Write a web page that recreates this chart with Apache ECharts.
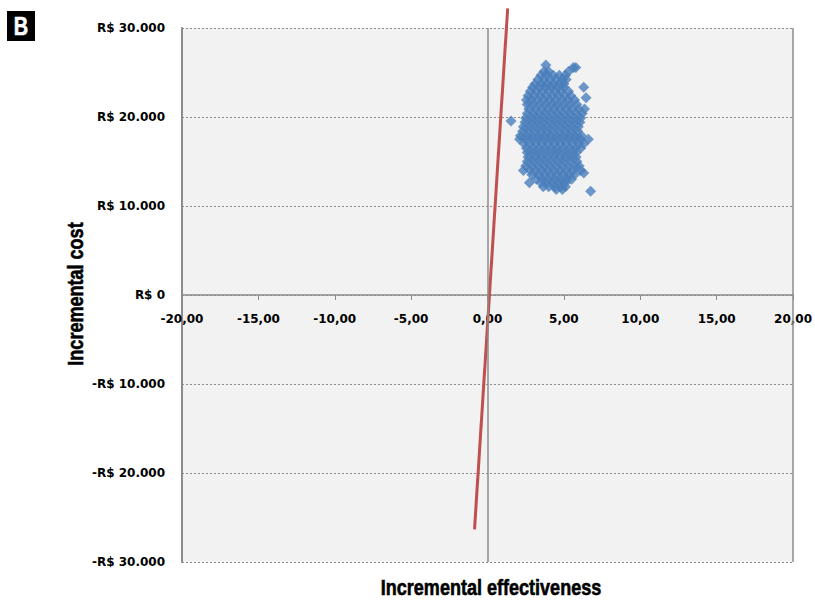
<!DOCTYPE html>
<html>
<head>
<meta charset="utf-8">
<script src="https://cdn.jsdelivr.net/npm/echarts@6/dist/echarts.min.js"></script>
<style>html,body{margin:0;padding:0;background:#fff;}#c{width:815px;height:600px;}</style>
</head>
<body>
<div id="c"></div>
<script>
// Simulated incremental cost rows (R$) and the incremental effectiveness values read in each row
const costRows = [25850, 25550, 25100, 24700, 24200, 23700, 23350, 22900, 22400, 22150, 21900, 21400, 20900, 20400, 19900, 19550, 19400, 18900, 18400, 17900, 17500, 17000, 16500, 16000, 15500, 15000, 14500, 14000, 13700, 13500, 13000, 12600, 12150, 11850, 11650];
const effectRows = [
  [3.82],
  [5.78, 5.62],
  [3.7, 4.0, 5.3],
  [3.5, 3.9, 4.3, 4.7, 5.1],
  [3.3, 3.7, 4.1, 4.5, 4.9, 5.15],
  [3.1, 3.5, 3.9, 4.3, 4.7, 5.0],
  [2.95, 3.4, 3.8, 4.2, 4.6, 5.0, 6.3],
  [2.8, 3.2, 3.6, 4.0, 4.4, 4.8, 5.3],
  [2.65, 3.05, 3.45, 3.85, 4.25, 4.65, 5.05, 5.45],
  [6.45],
  [2.55, 2.9, 3.3, 3.7, 4.1, 4.5, 4.9, 5.3, 5.7],
  [2.6, 3.0, 3.4, 3.8, 4.2, 4.6, 5.0, 5.4, 5.85],
  [2.7, 3.1, 3.5, 3.9, 4.3, 4.7, 5.1, 5.5, 5.95, 6.35],
  [2.6, 3.0, 3.4, 3.8, 4.2, 4.6, 5.0, 5.4, 5.8, 6.2],
  [2.5, 2.9, 3.3, 3.7, 4.1, 4.5, 4.9, 5.3, 5.7, 6.1],
  [1.54],
  [2.45, 2.85, 3.25, 3.65, 4.05, 4.45, 4.85, 5.25, 5.65, 6.05],
  [2.35, 2.75, 3.15, 3.55, 3.95, 4.35, 4.75, 5.15, 5.55, 5.95],
  [2.3, 2.7, 3.1, 3.5, 3.9, 4.3, 4.7, 5.1, 5.5, 5.9],
  [2.15, 2.55, 2.95, 3.35, 3.75, 4.15, 4.55, 4.95, 5.35, 5.75, 6.15],
  [2.1, 2.5, 2.9, 3.3, 3.7, 4.1, 4.5, 4.9, 5.3, 5.7, 6.1, 6.6],
  [2.4, 2.8, 3.2, 3.6, 4.0, 4.4, 4.8, 5.2, 5.6, 6.0, 6.3],
  [2.55, 2.95, 3.35, 3.75, 4.15, 4.55, 4.95, 5.35, 5.75, 6.1],
  [2.6, 3.0, 3.4, 3.8, 4.2, 4.6, 5.0, 5.4, 5.8],
  [2.65, 3.05, 3.45, 3.85, 4.25, 4.65, 5.05, 5.45, 5.8],
  [2.6, 3.0, 3.4, 3.8, 4.2, 4.6, 5.0, 5.4, 5.85],
  [2.5, 2.9, 3.3, 3.7, 4.1, 4.5, 4.9, 5.3, 5.7, 6.0],
  [2.35, 2.8, 3.2, 3.6, 4.0, 4.4, 4.8, 5.2, 5.6, 6.1],
  [6.3],
  [2.9, 3.3, 3.7, 4.1, 4.5, 4.9, 5.3, 5.7],
  [3.2, 3.6, 4.0, 4.4, 4.8, 5.2, 5.5],
  [2.74, 3.5, 3.9, 4.3, 4.7, 5.1],
  [3.65, 4.0, 4.4, 4.8, 5.1],
  [4.5, 4.9],
  [6.75]
];
// Willingness-to-pay threshold line endpoints
const thresholdEffect = [-0.85, 1.32];
const thresholdCost = [-26330, 32210];
// Tick labels
const xTickValues = [-20, -15, -10, -5, 0, 5, 10, 15, 20];
const xTickLabels = ['-20,00', '-15,00', '-10,00', '-5,00', '0,00', '5,00', '10,00', '15,00', '20,00'];
const yTickValues = [-30000, -20000, -10000, 0, 10000, 20000, 30000];
const yTickLabels = ['-R$ 30.000', '-R$ 20.000', '-R$ 10.000', 'R$ 0', 'R$ 10.000', 'R$ 20.000', 'R$ 30.000'];

const points = [];
costRows.forEach((c, i) => effectRows[i].forEach(e => points.push([e, c])));
const lineData = thresholdEffect.map((e, i) => [e, thresholdCost[i]]);

const labelFont = { fontFamily: 'DejaVu Sans', fontWeight: 'bold', fontSize: 12, color: '#000' };
const titleFont = '"Liberation Sans", Arial, sans-serif';

const GRID_TOP = 28, GRID_BOTTOM = 38, H = 600;
const halfH = (H - GRID_TOP - GRID_BOTTOM) / 2;

const chart = echarts.init(document.getElementById('c'), null, { renderer: 'svg' });
chart.setOption({
  animation: false,
  backgroundColor: '#ffffff',
  grid: { left: 182, right: 21, top: GRID_TOP, bottom: GRID_BOTTOM, show: true, backgroundColor: '#f2f2f2', borderWidth: 0 },
  xAxis: {
    type: 'value', min: -20, max: 20, interval: 5, position: 'bottom', offset: -halfH,
    axisLine: { onZero: false, lineStyle: { color: '#8c8c8c', width: 1.5 } },
    axisTick: { show: true, length: 5, lineStyle: { color: '#8c8c8c' } },
    splitLine: { show: false },
    axisLabel: Object.assign({ margin: 18, formatter: v => xTickLabels[xTickValues.indexOf(v)] }, labelFont)
  },
  yAxis: {
    type: 'value', min: -30000, max: 30000, interval: 10000,
    axisLine: { show: true, onZero: false, lineStyle: { color: '#8c8c8c', width: 2 } },
    axisTick: { show: false },
    splitLine: { show: true, lineStyle: { color: '#8c8c8c', type: [2, 2], width: 1 } },
    axisLabel: Object.assign({ margin: 17, formatter: v => yTickLabels[yTickValues.indexOf(v)] }, labelFont)
  },
  series: [
    {
      type: 'scatter', symbol: 'diamond', symbolSize: 11,
      itemStyle: { color: '#4a7ebb' },
      data: points,
      markLine: {
        silent: true, symbol: 'none', label: { show: false }, animation: false,
        lineStyle: { color: '#8c8c8c', type: 'solid', width: 1.5 },
        data: [{ xAxis: 0 }, { xAxis: 20 }]
      },
      z: 3
    },
    {
      type: 'line', data: lineData, clip: false, symbol: 'none',
      lineStyle: { color: '#c0504d', width: 3 }, z: 4
    }
  ],
  graphic: [
    { type: 'rect', left: 7, top: 11, shape: { width: 28, height: 30 }, style: { fill: '#000' } },
    { type: 'text', x: 21, y: 27, scaleX: 0.8, style: { text: 'B', fill: '#fff', stroke: '#fff', lineWidth: 0.6, font: 'bold 25px ' + titleFont, align: 'center', verticalAlign: 'middle' } },
    { type: 'text', x: 491, y: 587, scaleX: 0.82, style: { text: 'Incremental effectiveness', fill: '#000', stroke: '#000', lineWidth: 0.6, font: 'bold 22px ' + titleFont, align: 'center', verticalAlign: 'middle' } },
    { type: 'text', x: 75, y: 294, rotation: Math.PI / 2, scaleX: 0.82, style: { text: 'Incremental cost', fill: '#000', stroke: '#000', lineWidth: 0.6, font: 'bold 22px ' + titleFont, align: 'center', verticalAlign: 'middle' } }
  ]
});
</script>
</body>
</html>
